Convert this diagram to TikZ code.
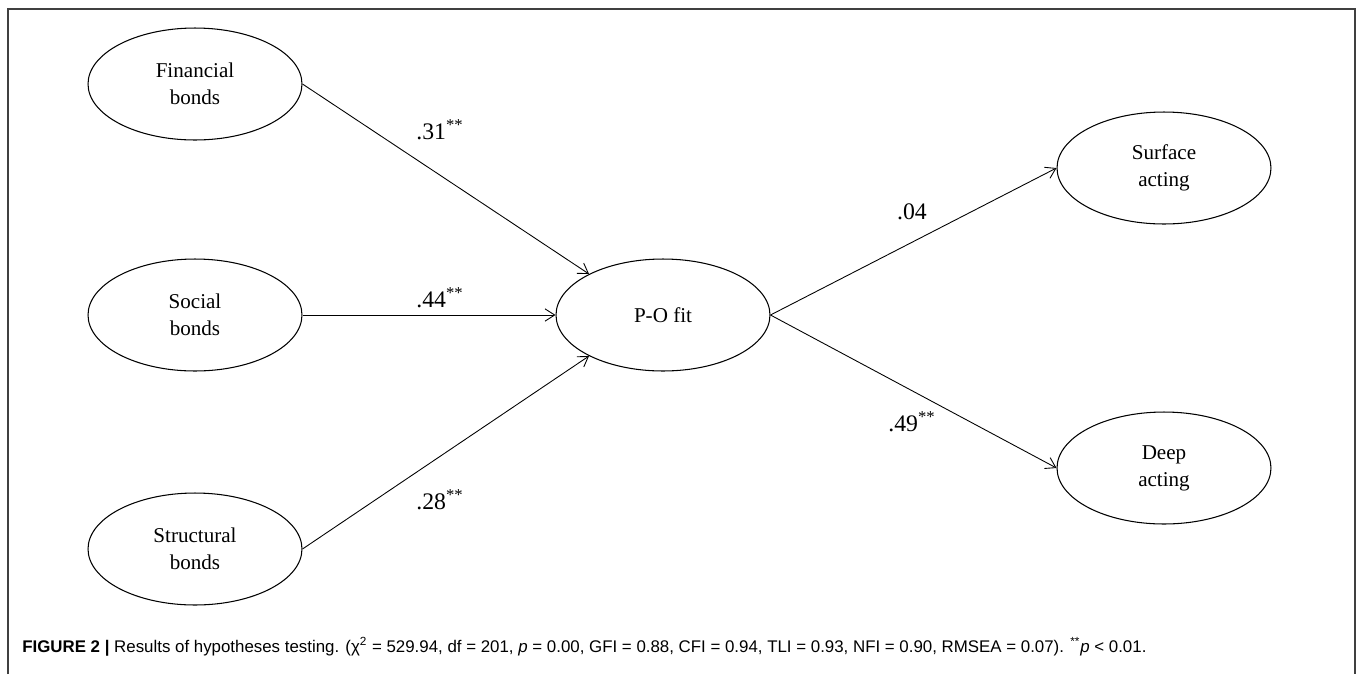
\documentclass[tikz,border=0pt]{standalone}
\usepackage{fontspec}
\setmainfont{Liberation Serif}
\newfontfamily\capfont{Liberation Sans}
\usetikzlibrary{shapes.geometric,arrows.meta}

\tikzstyle{construct}=[draw,ellipse,line width=0.6pt,minimum width=4.28cm,minimum height=2.24cm,inner sep=0pt,align=center,font=\fontsize{12}{15.5}\selectfont]
\tikzstyle{coef}=[inner sep=0pt,font=\fontsize{13.5}{16}\selectfont]
\tikzstyle{effect}=[->,line width=0.5pt]

\begin{document}
\begin{tikzpicture}[x=0.02cm,y=-0.02cm]
	\useasboundingbox (0,0) rectangle (1357,674);
	\begin{scope}[>={Straight Barb[length=5.5pt,width=7pt]}]
		% frame
		\draw[black!75,line width=1.1pt] (8,674) -- (8,9) -- (1355,9) -- (1355,674);
		
		\foreach \nm/\txt/\y in {fin/Financial/84, soc/Social/315, str/Structural/549}{
			\node (\nm)[construct] at (195,\y) {\txt\\bonds};
		}
		\node (po)[construct] at (663,315) {P-O fit};
		\node (sa)[construct] at (1164,168) {Surface\\acting};
		\node (da)[construct] at (1164,468) {Deep\\acting};
		
		\draw[effect] (fin.east) -- (po.151);
		\draw[effect] (soc) -- (po);
		\draw[effect] (str.east) -- (po.209);
		\draw[effect] (po.east) -- (sa.west);
		\draw[effect] (po.east) -- (da.west);
		
		\node (c31)[coef] at (440,130) {.31\textsuperscript{**}};
		\node (c44)[coef] at (440,298) {.44\textsuperscript{**}};
		\node (c28)[coef] at (440,500) {.28\textsuperscript{**}};
		\node (c04)[coef] at (912,212) {.04};
		\node (c49)[coef] at (912,422) {.49\textsuperscript{**}};
		
		\node (cap)[anchor=base west,inner sep=0pt,font=\capfont\fontsize{9.6}{11}\selectfont] at (22,652)
			{\textbf{FIGURE 2 |} Results of hypotheses testing. (χ\textsuperscript{2} = 529.94, df = 201, \textit{p} = 0.00, GFI = 0.88, CFI = 0.94, TLI = 0.93, NFI = 0.90, RMSEA = 0.07). \textsuperscript{**}\textit{p} < 0.01.};
	\end{scope}
\end{tikzpicture}
\end{document}
